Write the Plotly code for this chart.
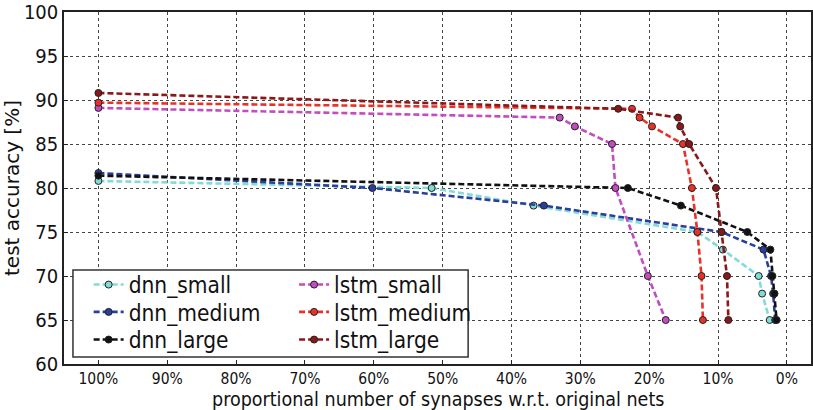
import plotly.graph_objects as go

# ---- data (x: % of synapses kept, y: test accuracy %) ----
dnn_small_x = [100, 51.6, 36.8, 13.0, 9.3, 4.1, 3.6, 2.5]
dnn_small_y = [80.8, 80, 78, 75, 73, 70, 68, 65]
dnn_medium_x = [100, 60.2, 35.3, 9.5, 3.4, 2.3, 2.0, 1.7]
dnn_medium_y = [81.7, 80, 78, 75, 73, 70, 68, 65]
dnn_large_x = [100, 23.1, 15.4, 5.75, 2.4, 2.1, 1.8, 1.5]
dnn_large_y = [81.4, 80, 78, 75, 73, 70, 68, 65]
lstm_small_x = [100, 33.0, 30.8, 25.4, 24.9, 20.2, 17.6]
lstm_small_y = [89.1, 88, 87, 85, 80, 70, 65]
lstm_medium_x = [100, 22.5, 21.4, 19.6, 15.1, 13.8, 13.0, 12.4, 12.2]
lstm_medium_y = [89.7, 89, 88, 87, 85, 80, 75, 70, 65]
lstm_large_x = [100, 24.5, 15.8, 15.5, 14.2, 10.3, 9.5, 8.7, 8.5]
lstm_large_y = [90.8, 89, 88, 87, 85, 80, 75, 70, 65]

x_ticks = [100, 90, 80, 70, 60, 50, 40, 30, 20, 10, 0]
x_tick_labels = [f"{v}%" for v in x_ticks]
y_ticks = [60, 65, 70, 75, 80, 85, 90, 95, 100]
x_title = "proportional number of synapses w.r.t. original nets"
y_title = "test accuracy [%]"

series = [
    ("dnn_small", dnn_small_x, dnn_small_y, "#80dcd6"),
    ("dnn_medium", dnn_medium_x, dnn_medium_y, "#2a3e9e"),
    ("dnn_large", dnn_large_x, dnn_large_y, "#111111"),
    ("lstm_small", lstm_small_x, lstm_small_y, "#c24cc0"),
    ("lstm_medium", lstm_medium_x, lstm_medium_y, "#ea3128"),
    ("lstm_large", lstm_large_x, lstm_large_y, "#8a1818"),
]

FONT = "DejaVu Sans Condensed, DejaVu Sans, sans-serif"
legend_ids = ["legend", "legend2", "legend3", "legend4", "legend5", "legend6"]

fig = go.Figure()
for (name, xs, ys, col), lg in zip(series, legend_ids):
    fig.add_trace(go.Scatter(
        x=xs, y=ys, name=name, mode="lines+markers", legend=lg,
        line=dict(color=col, width=2.6, dash="6px,3px"),
        marker=dict(size=7, color=col, line=dict(color="#222222", width=1)),
    ))

# legend frame
fig.add_shape(type="rect", xref="paper", yref="paper",
              x0=0.012, x1=0.541, y0=0.02, y1=0.267,
              line=dict(color="#333333", width=1.5), fillcolor="white", layer="above")

# x-axis title as an annotation for exact placement
fig.add_annotation(text=x_title, xref="paper", yref="paper", x=0.5, y=-0.1009,
                   xanchor="center", yanchor="middle", showarrow=False,
                   font=dict(size=19.5, family=FONT, color="#111111"))

axis_common = dict(showgrid=True, gridcolor="#444444", griddash="dot", gridwidth=1,
                   showline=True, linecolor="#222222", linewidth=1.5, mirror=True,
                   ticks="inside", ticklen=4, tickcolor="#222222", zeroline=False,
                   automargin=False)

# one single-entry legend per row/column so the spacing can match
col_x = [0.033, 0.308]
row_y = [0.2246, 0.1470, 0.0684]
legend_layouts = {}
for i, lg in enumerate(legend_ids):
    c, r = divmod(i, 3)
    legend_layouts[lg] = dict(x=col_x[c], y=row_y[r], xanchor="left", yanchor="middle",
                              bgcolor="rgba(0,0,0,0)", borderwidth=0,
                              font=dict(size=22.5), itemwidth=30)

fig.update_layout(
    width=813, height=410,
    margin=dict(l=64, r=2, t=12, b=46),
    paper_bgcolor="white", plot_bgcolor="white",
    font=dict(family=FONT, color="#111111"),
    xaxis=dict(range=[105, -3.5], tickvals=x_ticks, ticktext=x_tick_labels,
               tickfont=dict(size=15.5), **axis_common),
    yaxis=dict(range=[60, 100], tickvals=y_ticks, tickfont=dict(size=20),
               title=dict(text=y_title, font=dict(size=20, family="DejaVu Sans"), standoff=6),
               **axis_common),
    showlegend=True,
    **legend_layouts,
)

fig.write_html("out.html", config={"displayModeBar": False},
               post_script="document.body.style.margin='0';document.body.style.overflow='hidden';")
